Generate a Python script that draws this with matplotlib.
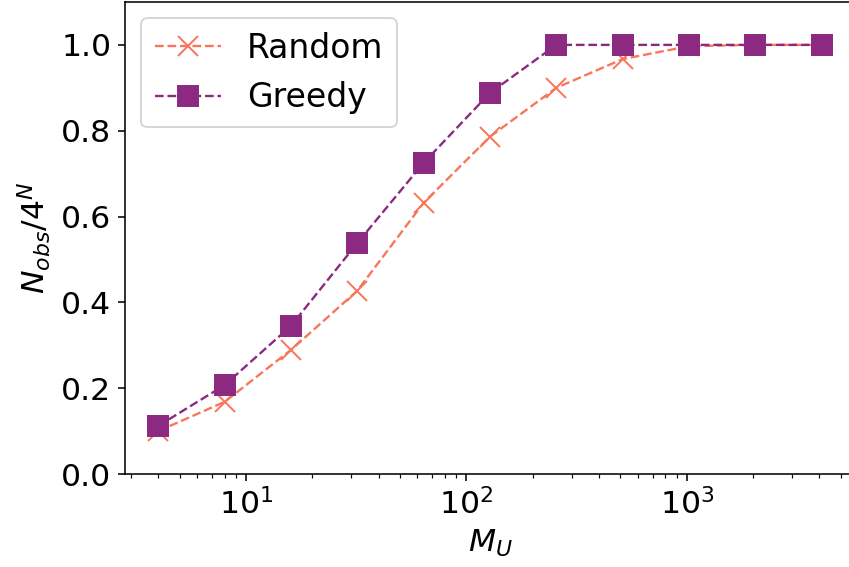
import matplotlib
matplotlib.use("Agg")
import matplotlib.pyplot as plt

# Dados
m_u = [4, 8, 16, 32, 64, 128, 256, 512, 1024, 2048, 4096]
random_vals = [0.100, 0.168, 0.289, 0.427, 0.632, 0.786, 0.900, 0.967, 0.997, 1.0, 1.0]
greedy_vals = [0.112, 0.207, 0.345, 0.538, 0.725, 0.888, 1.0, 1.0, 1.0, 1.0, 1.0]

cor_random = '#f8765c'
cor_greedy = '#8c2981'

plt.rcParams['font.size'] = 16

fig = plt.figure(figsize=(6, 4.0071), dpi=141.5)
# o eixo passa um pouco da borda direita, como no original
ax = fig.add_axes([0.1472, 0.164, 0.8598, 0.8325])

ax.plot(m_u, random_vals, '--x', color=cor_random, lw=1.2, markersize=10, label='Random')
ax.plot(m_u, greedy_vals, '--s', color=cor_greedy, lw=1.2, markersize=10, label='Greedy')

ax.set_xscale('log')
ax.set_ylim(0, 1.1)
ax.set_yticks([0.0, 0.2, 0.4, 0.6, 0.8, 1.0])
ax.set_xlabel('$M_U$')
ax.set_ylabel('$N_{obs}/4^N$')
ax.legend(loc='upper left', fontsize=16.8)

fig.savefig('out.png', dpi=141.5)
